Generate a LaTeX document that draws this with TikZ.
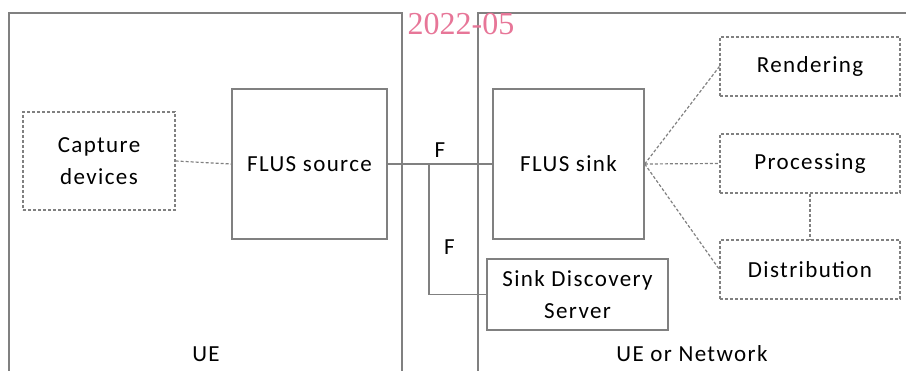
\documentclass[tikz,border=0pt]{standalone}
\usepackage{fontspec}
\setmainfont{Carlito}[LetterSpace=6]
\newfontfamily\stampfont{Liberation Serif}
\definecolor{lgray}{RGB}{128,128,128}
\definecolor{stamp}{RGB}{231,118,152}
\tikzset{
  flus/.style={draw=lgray,line width=1.5pt,align=center,inner sep=0pt},
  fnbox/.style={draw=lgray,line width=1.2pt,dash pattern=on 3pt off 2pt,align=center,inner sep=0pt},
  link/.style={lgray,line width=1.5pt},
  dotlink/.style={lgray,line width=1.2pt,dash pattern=on 3pt off 2pt},
}

\begin{document}
\begin{tikzpicture}[x=1pt,y=-1pt,font=\fontsize{23}{32}\selectfont]
    \useasboundingbox (0,0) rectangle (906,371);
    % domains
    \draw[link] (9,371) -- (9,13) -- (402,13) -- (402,371);
    \draw[link] (478,371) -- (478,13) -- (906,13);
    \node[stamp,font=\stampfont\fontsize{32}{36}\selectfont] (date) at (461,24) {2022-05};
    \node (ue) at (206,354) {UE};
    \node (net) at (692,354) {UE or Network};
    % functions
    \node[fnbox,minimum width=152pt,minimum height=98pt] (cap) at (99,161) {Capture\\devices};
    \node[flus,minimum width=155pt,minimum height=150pt] (src) at (309.5,164) {FLUS source};
    \node[flus,minimum width=151pt,minimum height=150pt] (sink) at (568.5,164) {FLUS sink};
    \node[flus,minimum width=181pt,minimum height=71pt] (sds) at (577.5,294.5) {Sink Discovery\\Server};
    \node[fnbox,minimum width=180pt,minimum height=59pt] (rend) at (810,66.5) {Rendering};
    \node[fnbox,minimum width=180pt,minimum height=59pt] (proc) at (810,163.5) {Processing};
    \node[fnbox,minimum width=180pt,minimum height=59pt] (dist) at (810,269.5) {Distribution};
    % interfaces
    \coordinate (split) at (429,164);
    \draw[dotlink] (cap.east) -- (src.west);
    \draw[link] (src.east) -- (sink.west) node[pos=0.5,above=2pt,black] (f1) {F};
    \draw[link] (split) |- (sds.west) node[pos=0.32,right=11pt,black] (f2) {F};
    \foreach \t in {rend,proc,dist} \draw[dotlink] (sink.east) -- (\t.west);
    \draw[dotlink] (proc.south) -- (dist.north);
\end{tikzpicture}
\end{document}
